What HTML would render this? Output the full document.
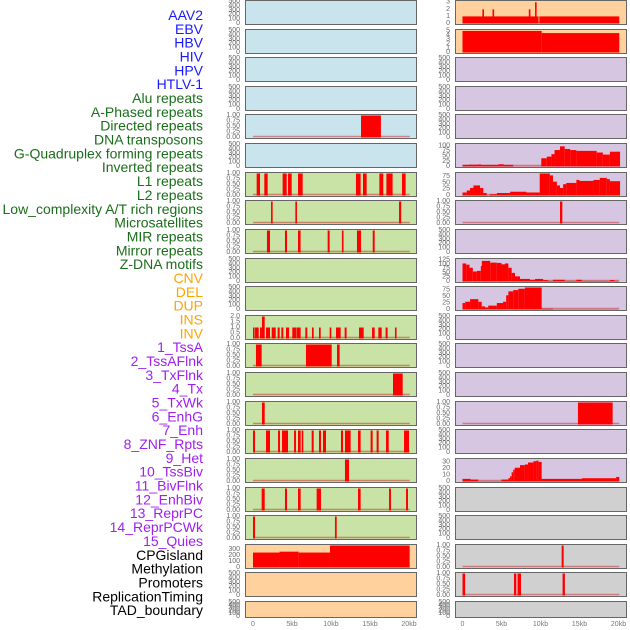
<!DOCTYPE html>
<html><head><meta charset="utf-8"><style>
html,body{margin:0;padding:0;background:#fff;width:630px;height:630px;overflow:hidden}
svg{display:block;font-family:"Liberation Sans",sans-serif}
</style></head><body>
<svg id="chart" width="630" height="630" viewBox="0 0 630 630" xmlns="http://www.w3.org/2000/svg"></svg>
<script>
const trackLabels=["AAV2","EBV","HBV","HIV","HPV","HTLV-1","Alu repeats","A-Phased repeats","Directed repeats","DNA transposons","G-Quadruplex forming repeats","Inverted repeats","L1 repeats","L2 repeats","Low_complexity A/T rich regions","Microsatellites","MIR repeats","Mirror repeats","Z-DNA motifs","CNV","DEL","DUP","INS","INV","1_TssA","2_TssAFlnk","3_TxFlnk","4_Tx","5_TxWk","6_EnhG","7_Enh","8_ZNF_Rpts","9_Het","10_TssBiv","11_BivFlnk","12_EnhBiv","13_ReprPC","14_ReprPCWk","15_Quies","CPGisland","Methylation","Promoters","ReplicationTiming","TAD_boundary"];
const labelGroups=[6,13,5,15,5];
const xTicks=[0,5,10,15,20];
const xTickLabels=["0","5kb","10kb","15kb","20kb"];
const T500=["500","400","300","200","100","0"], T500v=[500,400,300,200,100,0];
const T1=["1.00","0.75","0.50","0.25","0.00"], T1v=[1,0.75,0.5,0.25,0];
// data: [start kb, end kb, value]
const L4=[[13.85,16.4,1]];
const R0=[[0,9.75,1],[9.85,20.1,1],[2.55,2.75,2],[3.85,4.05,2],[8.5,8.7,2],[9.3,9.5,3]];
const R1=[[0,10.15,5],[10.15,20.1,4.5]];
const R5=[[0,0.9,8],[0.9,1.1,10],[1.1,2,9],[2,2.4,10],[2.4,4.6,8],[4.6,5.3,11],[5.3,6.5,8],[6.5,10.1,1],[10.1,10.8,40],[10.8,11.4,48],[11.4,11.8,60],[11.8,12.5,80],[12.5,13.1,98],[13.1,13.8,85],[13.8,14.6,80],[14.6,17.2,76],[17.2,18,68],[18,18.9,58],[18.9,20.2,72]];
const L6=[[0.47,0.9,1],[1.45,1.88,1],[3.8,4.32,1],[4.49,4.96,1],[5.77,6.37,1],[13.2,13.8,1],[14.1,14.57,1],[16.2,16.7,1],[17.1,17.9,1],[19.1,19.57,1]];
const R6=[[0,0.55,12],[0.55,0.97,20],[0.97,1.4,30],[1.4,2.25,40],[2.25,2.67,30],[2.67,3.1,10],[3.1,3.5,1],[3.5,4.4,5],[4.4,6.1,10],[6.1,8.2,15],[8.2,9.9,12],[9.9,11.2,90],[11.2,11.6,80],[11.6,12.1,55],[12.1,12.5,40],[12.5,12.9,30],[12.9,13.3,45],[13.3,14.6,50],[14.6,15,62],[15,16.8,58],[16.8,17.6,62],[17.6,18.5,70],[18.5,18.9,65],[18.9,20.2,57]];
const L7=[[2.31,2.52,1],[5.43,5.64,1],[18.72,19.0,1]];
const R7=[[12.5,12.8,1]];
const L8=[[1.79,2.18,1],[4.1,4.36,1],[5.77,6.1,1],[9.57,9.83,1],[11.4,11.6,1],[13.33,13.85,1],[15.35,15.6,1]];
const R9=[[0,0.47,105],[0.47,0.9,98],[0.9,1.32,80],[1.32,1.84,58],[1.84,2.35,62],[2.35,2.48,90],[2.48,3.55,120],[3.55,4.4,110],[4.4,5.0,108],[5.0,5.45,100],[5.45,5.88,105],[5.88,6.3,80],[6.3,6.73,50],[6.73,7.37,30],[7.37,8.65,15],[8.65,9.3,10],[9.3,10.35,15],[10.35,11.0,8],[11.0,11.6,3],[11.6,13.1,10],[13.1,14.6,3],[14.6,15.3,10],[15.3,18.9,3],[18.9,19.5,8],[19.5,20.0,3]];
const R10=[[0,0.34,25],[0.34,0.97,30],[0.97,2.03,40],[2.03,2.46,30],[2.46,2.9,12],[2.9,3.3,8],[3.3,4.4,15],[4.4,5.2,25],[5.2,5.6,30],[5.6,5.88,55],[5.88,6.5,70],[6.5,7.15,75],[7.15,8.0,80],[8.0,10.15,85],[10.15,11.6,3],[11.6,20.0,1]];
const L11=[[0,0.08,1],[0.26,0.73,1],[0.9,1.15,1],[1.15,1.5,2],[1.67,2.18,1],[2.4,2.91,1],[3.16,3.42,1],[3.63,3.89,1],[4.23,4.62,1],[5.04,5.51,1],[5.56,6.11,1],[6.71,6.96,1],[7.56,7.78,1],[8.46,8.68,1],[9.83,10.04,1],[10.64,11.24,1],[11.75,12.0,1],[13.59,14.19,1],[15.26,15.6,1],[16.07,16.5,1],[17.0,17.26,1],[18.2,18.4,1]];
const L12=[[0.38,1.11,1],[6.79,10.09,1],[10.77,11.11,1]];
const L13=[[17.95,19.19,1]];
const L14=[[1.15,1.5,1]];
const R14=[[14.8,19.25,1]];
const L15=[[0,0.26,1],[1.67,2.18,1],[3.21,3.46,1],[3.72,4.49,1],[5.26,5.51,1],[5.77,6.11,1],[6.24,6.45,1],[7.52,7.78,1],[8.46,8.72,1],[8.97,9.36,1],[11.28,11.54,1],[11.79,12.52,1],[13.46,13.8,1],[15.08,15.34,1],[15.85,16.11,1],[17.05,17.4,1],[19.36,20.0,1]];
const L16=[[11.79,12.31,1]];
const R16=[[0,1.05,4],[1.05,2.03,3],[2.03,5.0,0.5],[5.0,5.88,3],[5.88,6.1,5],[6.1,6.3,8],[6.3,6.5,14],[6.5,6.7,18],[6.7,7.37,21],[7.37,8.0,25],[8.0,8.4,26],[8.4,9.09,29],[9.09,9.5,31],[9.5,9.73,32],[9.73,10.15,30],[10.15,15.3,4],[15.3,19.7,5],[19.7,20.1,7]];
const L17=[[1.11,1.5,1],[4.1,4.36,1],[5.77,6.11,1],[8.16,8.72,1],[13.46,13.8,1],[17.44,17.69,1],[19.62,19.87,1]];
const L18=[[0,0.26,1],[10.51,10.73,1]];
const L19=[[0,3.4,250],[3.4,5.85,265],[5.85,9.87,250],[9.87,20.08,368]];
const R19=[[12.71,12.97,1]];
const R20=[[0,0.34,1],[6.6,6.9,1],[7.06,7.5,1],[12.83,13.13,1]];

const BG={b:"#c9e4ec",o:"#ffd19c",p:"#d6c6e2",g:"#c9e2a5",y:"#d0d0d0"};
const bgL="bbbbbbgggggggggggggooo", bgR="oopppppppppppppppyyyyy";
const dataL={4:L4,6:L6,7:L7,8:L8,11:L11,12:L12,13:L13,14:L14,15:L15,16:L16,17:L17,18:L18,19:L19};
const dataR={0:R0,1:R1,5:R5,6:R6,7:R7,9:R9,10:R10,14:R14,16:R16,19:R19,20:R20};
const tickL={4:"1",6:"1",7:"1",8:"1",11:"2",12:"1",13:"1",14:"1",15:"1",16:"1",17:"1",18:"1",19:"300"};
const tickR={0:"3",1:"5",5:"100",6:"75",7:"1",9:"125",10:"75b",14:"1",16:"30",19:"1",20:"1"};
const tickDefs={
 "1":[T1,T1v,1],"2":[["2.0","1.5","1.0","0.5","0.0"],[2,1.5,1,0.5,0],2],
 "300":[["300","200","100","0"],[300,200,100,0],368],
 "3":[["3","2","1","0"],[3,2,1,0],3.1],"5":[["5","4","3","2","1","0"],[5,4,3,2,1,0],5.1],
 "100":[["100","75","50","25","0"],[100,75,50,25,0],107],"75":[["75","50","25","0"],[75,50,25,0],87.5],
 "125":[["125","100","75","50","25","0"],[125,100,75,50,25,0],128],"75b":[["75","50","25","0"],[75,50,25,0],85],
 "30":[["30","20","10","0"],[30,20,10,0],33.6],"e":[T500,T500v,500]};
const NS="http://www.w3.org/2000/svg";
const svg=document.getElementById("chart");
function mk(tag,attrs,parent){const e=document.createElementNS(NS,tag);for(const k in attrs)e.setAttribute(k,attrs[k]);(parent||svg).appendChild(e);return e;}
const colors=["#1a1aff","#1a6e1a","#ffa500","#a020f0","#000000"];
let idx=0;
labelGroups.forEach((n,g)=>{for(let i=0;i<n;i++){const t=mk("text",{x:203,y:15+13.84*idx,"text-anchor":"end","dominant-baseline":"central","font-size":"14",fill:colors[g]});


t.textContent=trackLabels[idx];idx++;}});
function panel(r,side){
  const px=side==="L"?245:455, x0=side==="L"?253:462.5, pw=171;
  const top=Math.round(28.62*r), ph=r===21?16:24;
  const g=mk("g",{});
  
  
  const bgc=BG[(side==="L"?bgL:bgR)[r]];
  mk("rect",{x:px+0.5,y:top+0.5,width:pw,height:ph,fill:bgc,stroke:"#666","stroke-width":1},g);
  const td=tickDefs[(side==="L"?tickL:tickR)[r]||"e"];
  const ymax=td[2], bot=top+ph-0.5, h=ph-2;
  const yS=v=>bot-Math.min(v,ymax)/ymax*h;
  const xS=k=>x0+k*7.8;
  td[0].forEach((lab,i)=>{const t=mk("text",{x:px-5,y:yS(td[1][i]),"text-anchor":"end","dominant-baseline":"central","font-size":"7",fill:"#666"},g);
    
    
    t.textContent=lab;});
  const d=(side==="L"?dataL:dataR)[r];
  if(d){
    mk("line",{x1:xS(0),x2:xS(20.1),y1:bot-1,y2:bot-1,stroke:"rgba(200,40,40,0.5)","stroke-width":1.5},g);
    d.forEach(s=>{const x1=xS(s[0]),x2=xS(s[1]);const b=mk("rect",{x:x1,y:yS(s[2]),width:Math.max(1.6,x2-x1),height:bot-yS(s[2]),fill:"#ff0000"},g);
      
      });
  }
}
for(let r=0;r<22;r++){panel(r,"L");panel(r,"R");}
[253,462.5].forEach(x0=>{xTicks.forEach((k,i)=>{const t=mk("text",{x:x0+k*7.8,y:626,"text-anchor":"middle","font-size":"7",fill:"#777"});
  
  
  t.textContent=xTickLabels[i];});});
</script>
</body></html>
